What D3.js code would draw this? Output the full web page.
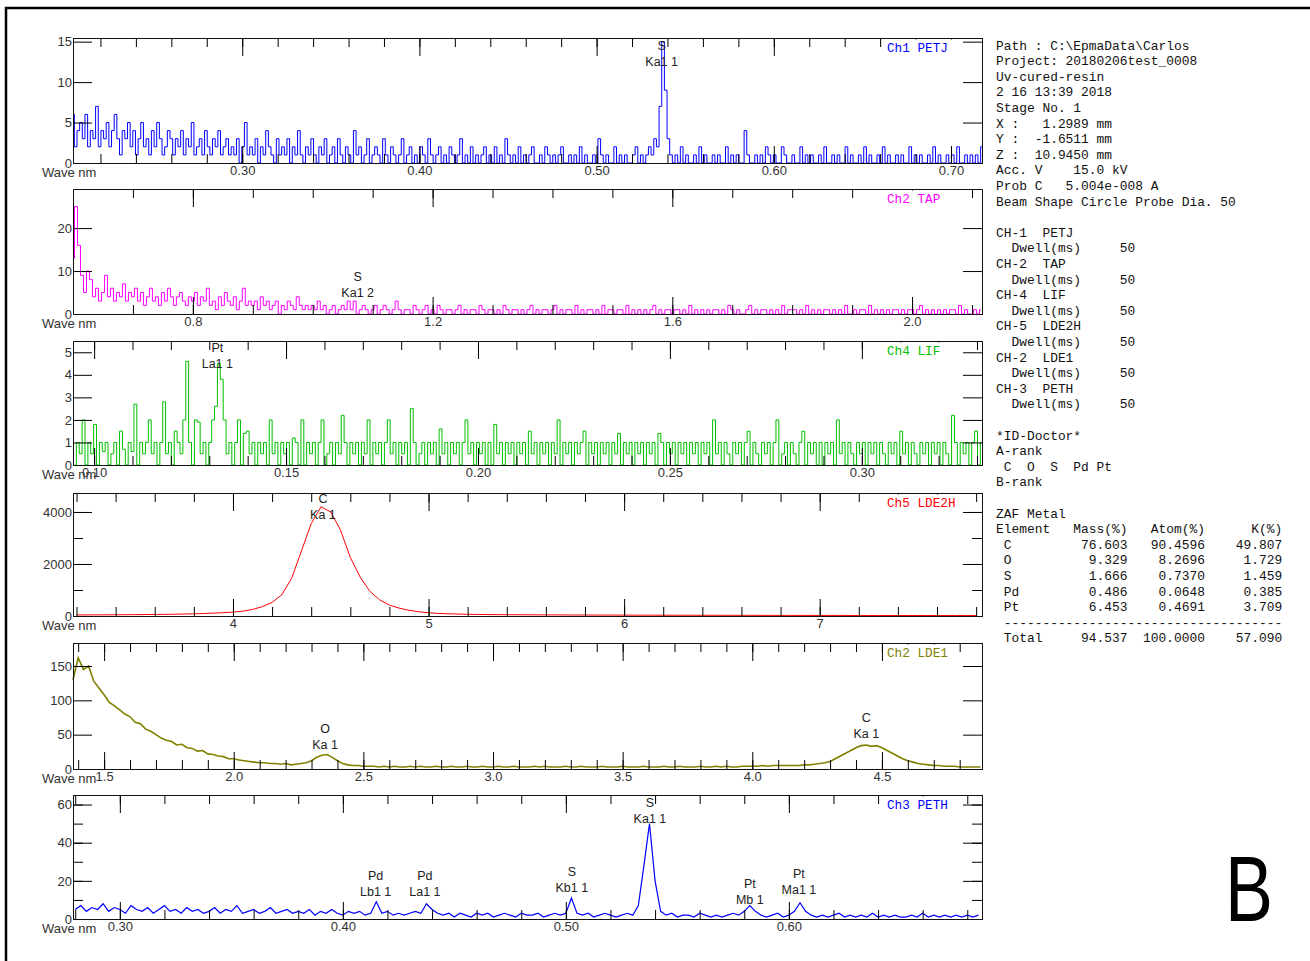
<!DOCTYPE html>
<html>
<head>
<meta charset="utf-8">
<script src="https://cdn.jsdelivr.net/npm/d3@7"></script>
<style>
body { margin: 0; background: #fff; }
svg text { font-family: "Liberation Sans", Arial, sans-serif; }
.mono { font-family: "Liberation Mono", "DejaVu Sans Mono", monospace; white-space: pre; }
</style>
</head>
<body>
<svg id="chart" width="1310" height="961"></svg>
<script>
// ---- spectra (counts, one value per scan step) ----
// Ch1 PETJ, wave nm from 0.2045, step 0.0015
var ch1Start = 0.2045, ch1Step = 0.0015;
var ch1Counts = [6,2,4,5,3,6,2,4,3,7,2,4,3,5,2,4,6,3,1,4,
  3,5,2,4,1,3,5,2,3,1,4,2,5,3,1,2,4,3,1,3,
  2,4,1,3,2,5,1,2,3,1,4,2,1,3,2,4,1,2,3,1,
  2,1,3,0,2,5,1,2,1,3,0,2,1,4,2,1,0,3,1,2,
  1,3,0,2,1,4,1,0,2,1,3,1,0,2,1,3,0,1,2,0,
  3,1,0,2,1,0,4,1,2,0,1,3,0,1,2,1,0,3,1,0,
  2,1,0,1,3,0,1,2,0,1,0,2,1,0,3,1,0,1,2,0,
  1,0,2,1,0,1,3,0,1,0,2,0,1,0,1,2,0,1,0,2,
  0,1,0,3,1,0,1,0,2,0,1,0,1,2,0,0,1,0,2,1,
  0,1,0,1,2,0,0,1,0,1,0,2,0,1,0,0,1,0,3,1,
  0,1,0,0,2,0,1,0,1,0,0,1,2,0,1,0,1,2,1,3,
  2,7,15,9,3,1,0,1,0,2,0,1,0,0,1,0,2,0,1,0,
  0,1,0,1,0,0,2,0,1,0,1,0,0,4,1,0,0,1,0,1,
  0,2,1,0,1,0,0,2,1,0,0,1,0,0,2,0,1,0,1,0,
  0,1,0,2,0,0,1,0,1,0,0,2,0,1,0,0,1,0,2,0,
  1,0,0,1,0,2,0,1,0,0,1,0,1,0,0,2,0,1,0,1,
  0,0,1,0,2,0,1,0,0,1,0,1,0,2,0,0,1,0,1,0,
  1,0,2];

// Ch2 TAP, from 0.600, step 0.005
var ch2Start = 0.600, ch2Step = 0.005;
var ch2Counts = [13,25,16,9,5,10,8,4,6,3,5,9,4,6,3,5,4,7,3,5,
  4,6,3,5,2,4,6,3,4,2,5,3,6,4,2,4,5,3,2,4,
  3,5,2,4,3,6,2,3,1,4,2,5,3,2,4,1,3,6,2,3,
  2,3,1,4,2,3,1,2,3,0,2,1,3,2,1,4,2,1,2,1,
  2,1,3,1,2,0,1,2,0,1,2,1,3,1,3,0,1,2,1,0,
  1,2,0,1,2,1,0,1,3,1,0,1,1,0,2,1,0,1,2,0,
  1,0,2,1,0,1,1,0,1,2,0,1,0,1,1,0,2,1,0,1,
  1,0,1,0,2,1,0,1,1,0,1,0,1,2,0,1,0,1,1,0,
  1,2,0,1,0,1,1,0,2,0,1,0,1,1,0,1,0,2,0,1,
  1,0,1,1,0,2,0,1,0,1,0,1,0,1,2,0,1,0,1,1,
  0,1,1,0,1,0,2,0,1,0,1,0,1,0,1,1,0,1,0,2,
  1,0,1,0,0,1,2,0,1,0,1,1,0,1,0,1,0,2,0,1,
  1,1,0,1,0,2,0,1,0,1,0,1,1,0,1,0,1,0,2,0,
  0,1,0,1,1,0,2,0,1,0,1,0,1,0,1,1,0,1,0,1,
  1,0,1,2,0,1,0,1,0,1,0,1,0,1,1,0,2,0,1,0,
  0,1,0,1];

// Ch4 LIF, from 0.095, step 0.00075
var ch3Start = 0.095, ch3Step = 0.00075;
var ch3Counts = [0,1,0.5,2,0,1,0.5,1.8,0,1,0.6,1,0,0.5,1,0,1.5,0.7,0,1,
  0.6,2.7,0,1,0.5,1,2,0.5,1,0,1,2.8,0.5,1,0,1.5,1,0.5,2,4.6,
  1,0,2,1.9,0.5,1,0,1,2,2.6,4.5,3.8,2,0.5,1,0,1,2,0,1.4,
  1.5,0.5,1,0,1,0.5,1,0,2,0.5,1,0,1,0.5,1,0,1.2,1,0,2,
  0,1,0.5,1,0,1,2,0,0.5,1,0,1,0.5,2.2,1,0,1,0.5,1,0,
  1,0.5,2,0,1,0.5,1,0,1,2,0.5,1,0,1,0.5,1,0,2.5,1,0,
  0.5,1,0,1,0.5,1,0,1.6,0.5,1,0,1,0.5,1,0,1,2,0.5,1,0,
  1,0.5,1,0,1,0,1.8,0.5,1,0,1,0.5,1,0,1,0.5,1,0,1.5,0.5,
  1,0,1,0.5,1,0,1,0.5,2,0,1,0.5,1,0,1,0.5,1,1.5,0,1,
  0.5,1,0,1,0.5,1,0,1,0.5,1.4,0,1,0.5,1,0,1,0.5,1,0,1,
  0.5,1,0,1.4,1,0,1,0.5,1,0,1,0.5,1,0,1,0.5,1,0,1,0.5,
  1,0,2,0.5,1,0,1,0.5,0,1,0.5,1,0,1,1.5,0,1,0.5,0,1,
  0.5,1,0,1,2,0,0.5,1,0,1,0.5,0,1,1.5,0,1,0.5,1,0,1,
  0,1,0.5,1,0,2,0.5,1,0,1,0.5,0,1,0.5,1,0,1,0.5,1,0,
  1,0.5,0,1,0.5,1,0,1.5,0.5,1,0,1,0.5,0,1,0.5,1,0,1,0.5,
  1,0,1,0.5,0,2.2,1,0,1,0.5,1,0,1,1.5,0,1];

// Ch5 LDE2H, from 3.20, step 0.05
var ch4Start = 3.20, ch4Step = 0.05;
var ch4Counts = [40,42,44,45,47,50,52,55,58,62,
  68,75,85,95,110,128,150,185,250,360,
  520,820,1450,2500,3550,4200,4000,3300,2250,1500,
  950,620,420,300,220,165,125,100,85,75,
  65,60,55,52,50,48,46,44,43,42,
  40,39,38,37,36,35,34,33,33,32,
  31,30,30,29,28,28,27,27,26,26,
  25,25,24,24,23,23,22,22,22,21,
  21,20,20,20,19,19,19,18,18,18,
  17,17,17];

// Ch2 LDE1, from 1.38, step 0.02
var ch5Start = 1.38, ch5Step = 0.02;
var ch5Counts = [130,162,145,150,128,118,108,97,92,86,
  80,76,68,66,58,55,50,45,42,40,
  35,36,31,30,26,27,22,21,19,18,
  15,15,13,12,11,10,9,9,8,8,
  7,8,6,7,8,9,12,17,20,21,
  17,12,8,6,5,5,4,4,4,3,
  4,3,4,3,3,4,3,4,3,3,
  4,3,3,4,3,3,4,3,3,4,
  3,3,4,3,3,4,3,3,3,4,
  3,4,3,3,3,4,3,3,4,3,
  3,3,4,3,3,3,4,3,3,3,
  4,3,3,3,4,3,3,4,3,3,
  3,4,3,3,4,3,4,3,3,4,
  4,4,4,5,4,5,5,5,5,5,
  5,6,6,7,8,9,11,15,19,23,
  27,31,34,35,33,34,31,27,23,19,
  15,12,10,8,7,6,5,5,4,4,
  4,3,3,3,3,3];

// Ch3 PETH, from 0.28, step 0.0025
var ch6Start = 0.28, ch6Step = 0.0025;
var ch6Counts = [5,7,4,6,5,8,4,6,5,3,7,5,4,6,3,5,7,4,5,3,
  6,4,5,3,4,6,3,5,4,7,3,4,5,3,4,6,3,4,5,3,
  4,3,5,2,4,3,5,3,2,4,3,4,2,3,
  9,
  3,4,2,3,2,3,4,3,
  8,5,
  3,2,3,1,3,2,1,3,2,3,1,2,3,2,1,3,2,2,3,1,2,3,2,3,
  11,
  3,2,3,1,2,3,2,1,2,3,2,
  7,28,50,20,4,
  2,3,1,2,2,1,3,2,1,2,1,2,3,2,4,
  7,4,
  2,1,2,3,1,2,4,
  8.5,4,
  2,1,2,1,2,3,1,2,1,2,1,3,1,2,1,2,1,1,2,1,3,1,2,1,2,1,2,1,2,1,2];

// ---- peak identifications: element, line, wave, count level of the line label ----
var ch1Peaks = [["S", "Ka1 1", 0.5367, 12.5]];
var ch2Peaks = [["S", "Ka1 2", 1.075, 4.9]];
var ch3Peaks = [["Pt", "La1 1", 0.1321, 4.5]];
var ch4Peaks = [["C", "Ka 1", 4.46, 3880]];
var ch5Peaks = [["O", "Ka 1", 2.352, 35], ["C", "Ka 1", 4.44, 51]];
var ch6Peaks = [["Pd", "Lb1 1", 0.4147, 14.5], ["Pd", "La1 1", 0.4368, 14.5],
  ["S", "Kb1 1", 0.5027, 16.6], ["S", "Ka1 1", 0.5377, 52.7],
  ["Pt", "Mb 1", 0.5825, 10.3], ["Pt", "Ma1 1", 0.6045, 15.5]];

// ---- side text ----
var headerLines = ["Path : C:\\EpmaData\\Carlos", "Project: 20180206test_0008", "Uv-cured-resin",
  "2 16 13:39 2018", "Stage No. 1", "X :   1.2989 mm", "Y :  -1.6511 mm", "Z :  10.9450 mm",
  "Acc. V    15.0 kV", "Prob C   5.004e-008 A", "Beam Shape Circle Probe Dia. 50"];
var chanIds = ["CH-1", "CH-2", "CH-4", "CH-5", "CH-2", "CH-3"];
var crystals = ["PETJ", "TAP", "LIF", "LDE2H", "LDE1", "PETH"];
var dwellMs = [50, 50, 50, 50, 50, 50];
var aRank = ["C", "O", "S", "Pd", "Pt"];
var elements = ["C", "O", "S", "Pd", "Pt"];
var massPct = [76.603, 9.329, 1.666, 0.486, 6.453];
var atomPct = [90.4596, 8.2696, 0.7370, 0.0648, 0.4691];
var kPct = [49.807, 1.729, 1.459, 0.385, 3.709];
var totals = [94.537, 100.0000, 57.090];

var panels = [
  { name: "Ch1 PETJ", color: "#0000ff", start: ch1Start, step: ch1Step, counts: ch1Counts, peaks: ch1Peaks,
    top: 38, bottom: 163, xDomain: [0.2045, 0.7175], xMinor: 0.02, xMajor: 0.1, fmt: ".2f",
    yMax: 15.45, yMajor: 5, yMinor: null, stepped: true, width: 1 },
  { name: "Ch2 TAP", color: "#ff00ff", start: ch2Start, step: ch2Step, counts: ch2Counts, peaks: ch2Peaks,
    top: 189, bottom: 314, xDomain: [0.6, 2.1167], xMinor: 0.1, xMajor: 0.4, fmt: ".1f",
    yMax: 29.1, yMajor: 10, yMinor: null, stepped: true, width: 1 },
  { name: "Ch4 LIF", color: "#00c000", start: ch3Start, step: ch3Step, counts: ch3Counts, peaks: ch3Peaks,
    top: 341, bottom: 465, xDomain: [0.0945, 0.3313], xMinor: 0.01, xMajor: 0.05, fmt: ".2f",
    yMax: 5.5, yMajor: 1, yMinor: null, stepped: true, width: 1 },
  { name: "Ch5 LDE2H", color: "#ff0000", start: ch4Start, step: ch4Step, counts: ch4Counts, peaks: ch4Peaks,
    top: 493, bottom: 616, xDomain: [3.182, 7.83], xMinor: 0.2, xMajor: 1, fmt: "d",
    yMax: 4730, yMajor: 2000, yMinor: 1000, stepped: false, width: 1 },
  { name: "Ch2 LDE1", color: "#808000", start: ch5Start, step: ch5Step, counts: ch5Counts, peaks: ch5Peaks,
    top: 643, bottom: 769, xDomain: [1.38, 4.886], xMinor: 0.1, xMajor: 0.5, fmt: ".1f",
    yMax: 183.5, yMajor: 50, yMinor: null, stepped: false, width: 1.6 },
  { name: "Ch3 PETH", color: "#0000ff", start: ch6Start, step: ch6Step, counts: ch6Counts, peaks: ch6Peaks,
    top: 795, bottom: 919, xDomain: [0.279, 0.6866], xMinor: 0.02, xMajor: 0.1, fmt: ".2f",
    yMax: 65, yMajor: 20, yMinor: 10, stepped: false, width: 1.2 }
];

var left = 73, right = 982;
var svg = d3.select("#chart");
svg.append("rect").attr("width", 1310).attr("height", 961).attr("fill", "#fff");
// outer frame of the figure
svg.append("path").attr("d", "M6,961V8H1310").attr("fill", "none")
  .attr("stroke", "#000").attr("stroke-width", 2.5);

function steps(dom, step) {
  var a = [];
  for (var k = Math.ceil(dom[0] / step - 1e-9); k * step <= dom[1] + 1e-9; k++) a.push(+(k * step).toFixed(6));
  return a;
}

function styleAxis(g) {
  g.select(".domain").remove();
  g.selectAll("line").attr("stroke", "#000");
  g.selectAll("text").attr("font-size", 13).attr("fill", "#333")
    .attr("font-family", "Liberation Sans, Arial, sans-serif");
}

panels.forEach(function(p) {
  var x = d3.scaleLinear().domain(p.xDomain).range([left, right]);
  var y = d3.scaleLinear().domain([0, p.yMax]).range([p.bottom, p.top]);
  var g = svg.append("g");

  var xMaj = steps(p.xDomain, p.xMajor), xMin = steps(p.xDomain, p.xMinor);
  var yMaj = steps([0, p.yMax], p.yMajor), yMin = p.yMinor ? steps([0, p.yMax], p.yMinor) : [];

  // spectrum
  var line = d3.line()
    .curve(p.stepped ? d3.curveStep : d3.curveLinear)
    .x(function(d, i) { return x(p.start + i * p.step); })
    .y(function(d) { return y(d); });
  g.append("path").datum(p.counts).attr("d", line)
    .attr("fill", "none").attr("stroke", p.color).attr("stroke-width", p.width);

  // x ticks, inward on top and bottom
  g.append("g").attr("transform", "translate(0," + p.bottom + ")")
    .call(d3.axisBottom(x).tickValues(xMin).tickSize(-9).tickFormat("")).call(styleAxis);
  g.append("g").attr("transform", "translate(0," + p.bottom + ")")
    .call(d3.axisBottom(x).tickValues(xMaj).tickSize(-17).tickPadding(3).tickFormat(d3.format(p.fmt)))
    .call(styleAxis);
  g.append("g").attr("transform", "translate(0," + p.top + ")")
    .call(d3.axisTop(x).tickValues(xMin).tickSize(-9).tickFormat("")).call(styleAxis);
  g.append("g").attr("transform", "translate(0," + p.top + ")")
    .call(d3.axisTop(x).tickValues(xMaj).tickSize(-18).tickFormat("")).call(styleAxis);

  // y ticks, inward on both sides
  g.append("g").attr("transform", "translate(" + left + ",0)")
    .call(d3.axisLeft(y).tickValues(yMaj).tickSize(-19).tickPadding(1).tickFormat(d3.format("d")))
    .call(styleAxis);
  g.append("g").attr("transform", "translate(" + right + ",0)")
    .call(d3.axisRight(y).tickValues(yMaj).tickSize(-19).tickFormat("")).call(styleAxis);
  if (yMin.length) {
    g.append("g").attr("transform", "translate(" + left + ",0)")
      .call(d3.axisLeft(y).tickValues(yMin).tickSize(-10).tickFormat("")).call(styleAxis);
    g.append("g").attr("transform", "translate(" + right + ",0)")
      .call(d3.axisRight(y).tickValues(yMin).tickSize(-10).tickFormat("")).call(styleAxis);
  }

  // frame
  g.append("rect").attr("x", left + 0.5).attr("y", p.top + 0.5)
    .attr("width", right - left).attr("height", p.bottom - p.top)
    .attr("fill", "none").attr("stroke", "#111").attr("stroke-width", 1);

  g.append("text").attr("x", 42).attr("y", p.bottom + 9).attr("dy", "0.35em")
    .attr("font-size", 13).attr("fill", "#333").text("Wave nm");

  // channel name on a white patch over the ticks
  var lab = g.append("text").attr("class", "mono").attr("x", 887).attr("y", p.top + 10).attr("dy", "0.35em")
    .attr("font-size", 12.7).attr("fill", p.color).text(p.name);
  var w = lab.node().getComputedTextLength();
  g.insert("rect", function() { return lab.node(); })
    .attr("x", 884).attr("y", p.top + 1.5).attr("width", w + 12).attr("height", 17).attr("fill", "#fff");

  // peak labels
  p.peaks.forEach(function(k) {
    var t = g.append("text").attr("text-anchor", "middle").attr("font-size", 12.5).attr("fill", "#222");
    t.append("tspan").attr("x", x(k[2])).attr("y", y(k[3]) - 16).attr("dy", "0.35em").text(k[0]);
    t.append("tspan").attr("x", x(k[2])).attr("y", y(k[3])).attr("dy", "0.35em").text(k[1]);
  });
});

// ---- side listing ----
var lines = headerLines.slice();
lines.push("");
chanIds.forEach(function(c, i) {
  lines.push(c + "  " + crystals[i]);
  lines.push("  Dwell(ms)     " + dwellMs[i]);
});
lines.push("");
lines.push("*ID-Doctor*");
lines.push("A-rank");
lines.push(" " + aRank.map(function(s) { return s.padEnd(3); }).join("").trimEnd());
lines.push("B-rank");
lines.push("");
lines.push("ZAF Metal");
lines.push("Element".padEnd(10) + "Mass(%)" + "Atom(%)".padStart(10) + "K(%)".padStart(10));
elements.forEach(function(e, i) {
  lines.push((" " + e).padEnd(11) + massPct[i].toFixed(3).padStart(6) +
    atomPct[i].toFixed(4).padStart(10) + kPct[i].toFixed(3).padStart(10));
});
lines.push(" " + "-".repeat(36));
lines.push(" Total".padEnd(11) + totals[0].toFixed(3).padStart(6) +
  totals[1].toFixed(4).padStart(10) + totals[2].toFixed(3).padStart(10));

svg.append("g").selectAll("text").data(lines).enter().append("text")
  .attr("class", "mono").attr("x", 996)
  .attr("y", function(d, i) { return 45 + i * 15.6; }).attr("dy", "0.35em")
  .attr("font-size", 12.9).attr("fill", "#111")
  .text(function(d) { return d; });

svg.append("text").attr("x", 1225).attr("y", 921).attr("font-size", 92)
  .attr("textLength", 48).attr("lengthAdjust", "spacingAndGlyphs")
  .attr("fill", "#000").text("B");
</script>
</body>
</html>
